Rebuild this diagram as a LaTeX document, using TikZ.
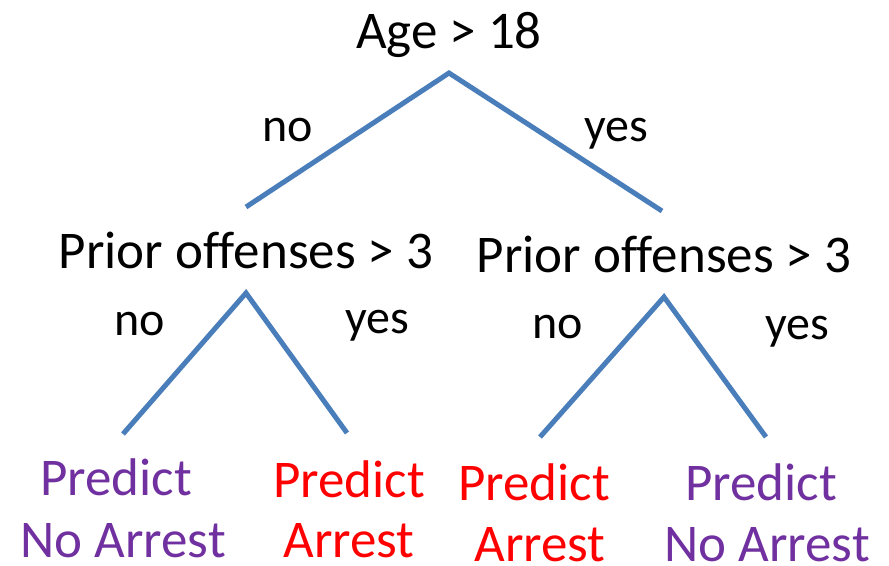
\documentclass[tikz,border=0pt]{standalone}
\usepackage{fontspec}
\setmainfont{Carlito}[Ligatures=NoCommon]
\definecolor{edgeblue}{HTML}{4A7EBB}
\definecolor{leafpurple}{HTML}{7030A0}
\definecolor{leafred}{HTML}{FF0000}
\begin{document}
\begin{tikzpicture}[x=1pt,y=-1pt,
  test/.style={anchor=base,inner sep=0pt,font=\fontsize{53}{63}\selectfont},
  lab/.style={anchor=base,inner sep=0pt,font=\fontsize{48}{57}\selectfont},
  leafp/.style={anchor=base,inner sep=0pt,text=leafpurple,font=\fontsize{53}{63}\selectfont},
  leafr/.style={anchor=base,inner sep=0pt,text=leafred,font=\fontsize{53}{63}\selectfont},
  edge/.style={draw=edgeblue,line width=5pt}]
\useasboundingbox (0,0) rectangle (889,565);
% tests
\node[test] (root) at (449,48) {Age > 18};
\node[test] (lt) at (246,268) {Prior offenses > 3};
\node[test] (rt) at (664,272) {Prior offenses > 3};
% branch labels
\node[lab] (l0no) at (288,141) {no};
\node[lab] (l0yes) at (616,141) {yes};
\node[lab] (l1no) at (140,335) {no};
\node[lab] (l1yes) at (377,333) {yes};
\node[lab] (r1no) at (558,338) {no};
\node[lab] (r1yes) at (797,339) {yes};
% leaves
\node[leafp] (leafAa) at (116,495) {Predict};
\node[leafp] (leafAb) at (123,557) {No Arrest};
\node[leafr] (leafBa) at (349,497) {Predict};
\node[leafr] (leafBb) at (349,557) {Arrest};
\node[leafr] (leafCa) at (534,500) {Predict};
\node[leafr] (leafCb) at (540,561) {Arrest};
\node[leafp] (leafDa) at (761,500) {Predict};
\node[leafp] (leafDb) at (767,561) {No Arrest};
% connector points
\coordinate (rootapex) at (449,73);
\coordinate (ltend) at (246,207);
\coordinate (rtend) at (662,211);
\coordinate (ltapex) at (246,293);
\coordinate (aend) at (123,434);
\coordinate (bend) at (347,433);
\coordinate (rtapex) at (664,297);
\coordinate (cend) at (540,437);
\coordinate (dend) at (766,437);
% connectors
\draw[edge] (ltend) -- (rootapex) -- (rtend);
\draw[edge] (aend) -- (ltapex) -- (bend);
\draw[edge] (cend) -- (rtapex) -- (dend);
\end{tikzpicture}
\end{document}
